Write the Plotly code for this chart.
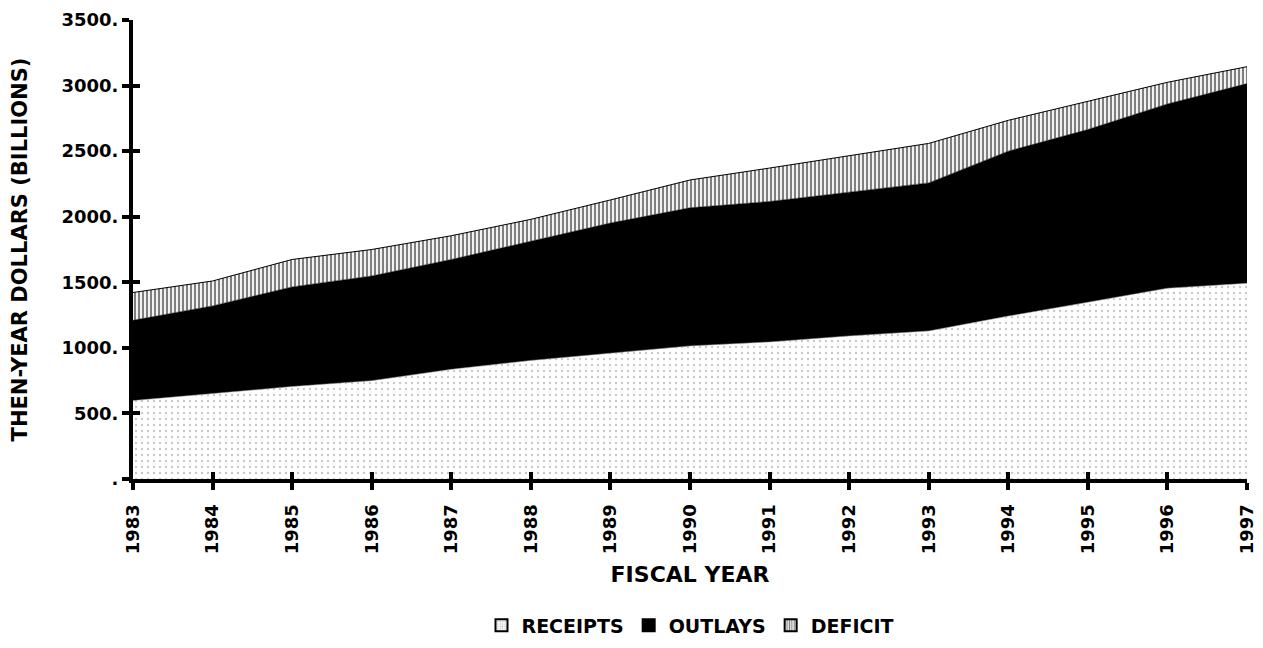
import plotly.graph_objects as go

# Fiscal years on the x axis
years = [1983, 1984, 1985, 1986, 1987, 1988, 1989, 1990,
         1991, 1992, 1993, 1994, 1995, 1996, 1997]

# Stacked layer heights, then-year dollars (billions)
receipts = [598, 652, 705, 750, 836, 904, 962, 1015, 1045, 1091, 1129, 1242, 1348, 1455, 1492]
outlays = [612, 668, 760, 798, 838, 909, 990, 1053, 1071, 1096, 1129, 1258, 1317, 1405, 1523]
deficit = [212, 190, 209, 202, 181, 167, 176, 212, 255, 276, 301, 235, 215, 165, 129]

y_ticks = [0, 500, 1000, 1500, 2000, 2500, 3000, 3500]
y_tick_text = [".", "500.", "1000.", "1500.", "2000.", "2500.", "3000.", "3500."]

FONT = "DejaVu Sans, Arial, sans-serif"

stipple = dict(shape=".", fgcolor="#909090", bgcolor="white", size=6, solidity=0.12)
stripes = dict(shape="|", fgcolor="black", bgcolor="white", size=4, solidity=0.55)

fig = go.Figure()

# stacked areas (legend drawn by the square swatches below)
fig.add_trace(go.Scatter(
    x=years, y=receipts, name="RECEIPTS", showlegend=False,
    stackgroup="one", mode="lines",
    line=dict(width=0.5, color="#999999"),
    fillcolor="white", fillpattern=stipple,
))
fig.add_trace(go.Scatter(
    x=years, y=outlays, name="OUTLAYS", showlegend=False,
    stackgroup="one", mode="lines",
    line=dict(width=0.5, color="black"),
    fillcolor="black",
))
fig.add_trace(go.Scatter(
    x=years, y=deficit, name="DEFICIT", showlegend=False,
    stackgroup="one", mode="lines",
    line=dict(width=1, color="black"),
    fillcolor="white", fillpattern=stripes,
))

# legend-only square swatches
legend_items = [
    ("RECEIPTS", dict(color="white", line=dict(color="black", width=1),
                      pattern=dict(shape=".", fgcolor="#777", size=3, solidity=0.3))),
    ("OUTLAYS", dict(color="black", line=dict(color="black", width=1))),
    ("DEFICIT", dict(color="white", line=dict(color="black", width=1),
                     pattern=dict(shape="|", fgcolor="black", size=3, solidity=0.5))),
]
for name, marker in legend_items:
    fig.add_trace(go.Bar(x=[None], y=[None], name=f"<b>{name}</b>",
                         marker=marker, hoverinfo="skip"))

# the page body adds an 8px offset, so the margins are shifted to compensate
fig.update_layout(
    width=1255, height=648,
    margin=dict(l=125, r=16, t=12, b=175),
    paper_bgcolor="white", plot_bgcolor="white",
    font=dict(family=FONT, color="black", size=18),
    showlegend=True,
    legend=dict(
        orientation="h", x=0.5, xanchor="center", y=-0.319, yanchor="middle",
        traceorder="normal", font=dict(size=19, family=FONT),
        itemwidth=30, itemsizing="constant",
    ),
    xaxis=dict(
        range=[1983, 1997], tickvals=years,
        ticktext=[f"<b>{y}</b>" for y in years],
        tickangle=-90, ticks="outside", ticklen=7, tickwidth=4,
        tickcolor="black", showline=True, linewidth=4, linecolor="black",
        showgrid=False, zeroline=False, automargin=False,
        ticklabelstandoff=7,
        tickfont=dict(size=18, family=FONT),
        title=dict(text="<b>FISCAL YEAR</b>", font=dict(size=22, family=FONT),
                   standoff=14),
    ),
    yaxis=dict(
        range=[0, 3500], tickvals=y_ticks,
        ticktext=[f"<b>{t}</b>" for t in y_tick_text],
        ticks="outside", ticklen=7, tickwidth=4, tickcolor="black",
        showline=True, linewidth=4, linecolor="black",
        showgrid=False, zeroline=False, automargin=False,
        tickfont=dict(size=18, family=FONT),
        title=dict(text="<b>THEN-YEAR DOLLARS (BILLIONS)</b>",
                   font=dict(size=21, family=FONT), standoff=29),
    ),
    # overlay axes give the inside half of the crossing tick marks
    xaxis2=dict(
        overlaying="x", matches="x", anchor="y", side="bottom",
        tickvals=years, showticklabels=False, ticks="inside",
        ticklen=7, tickwidth=4, tickcolor="black", showgrid=False,
        zeroline=False, showline=False, automargin=False,
    ),
    yaxis2=dict(
        overlaying="y", matches="y", anchor="x", side="left",
        tickvals=y_ticks, showticklabels=False, ticks="inside",
        ticklen=7, tickwidth=4, tickcolor="black", showgrid=False,
        zeroline=False, showline=False, automargin=False,
    ),
)

# invisible trace so the overlay axes are drawn
fig.add_trace(go.Scatter(x=[1983], y=[0], xaxis="x2", yaxis="y2",
                         mode="markers", marker=dict(opacity=0),
                         showlegend=False, hoverinfo="skip"))

fig.write_html("out.html")
